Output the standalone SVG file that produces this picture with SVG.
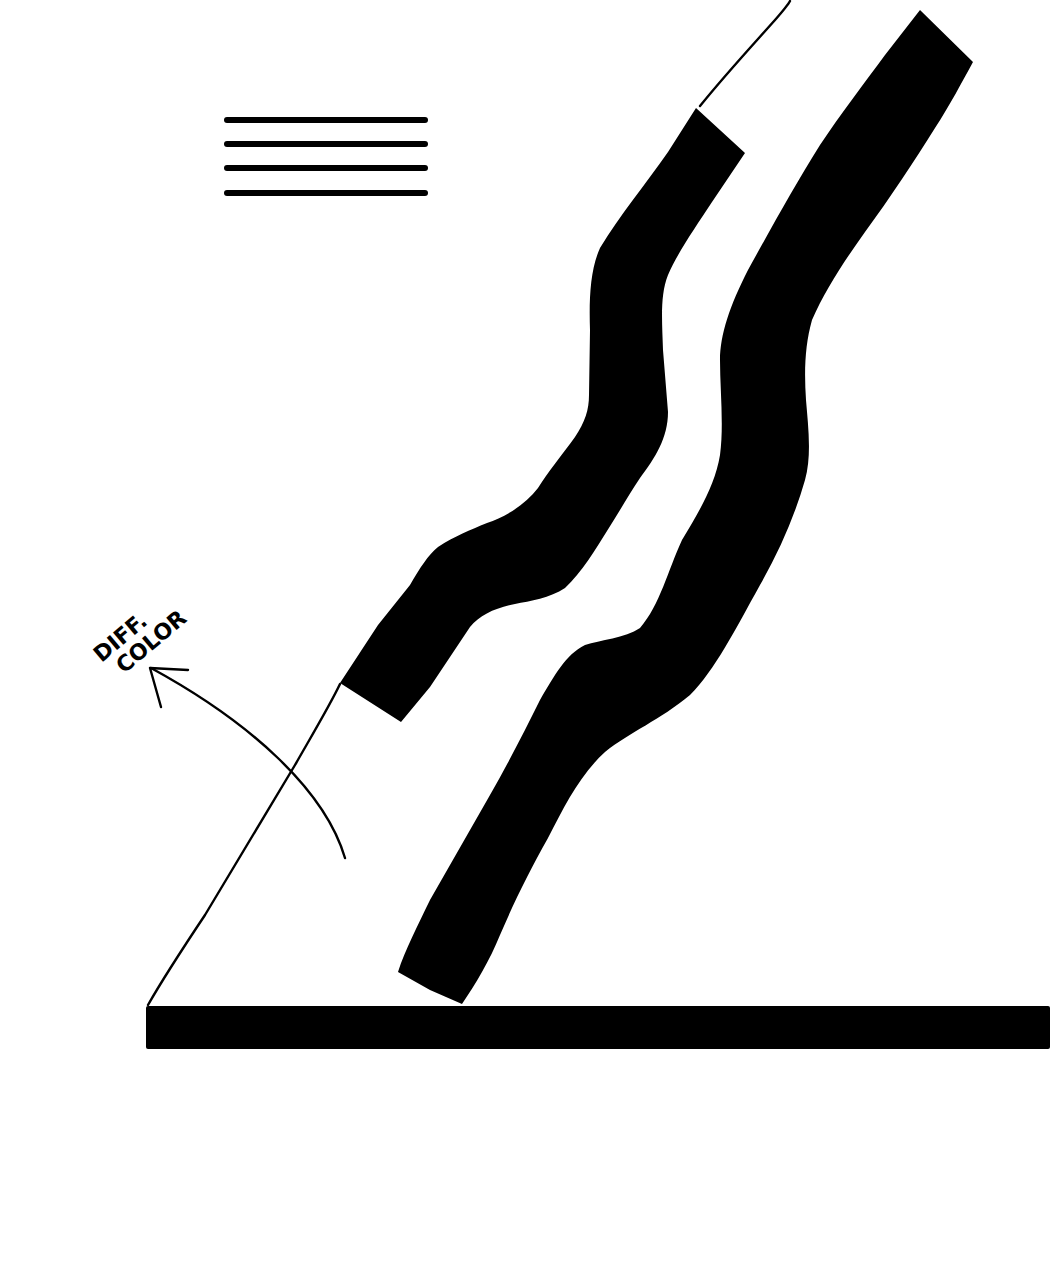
<svg xmlns="http://www.w3.org/2000/svg" width="1050" height="1275" viewBox="0 0 1050 1275">
<style>
.ink{fill:#000;stroke:none}
.thin{fill:none;stroke:#000;stroke-width:2.4;stroke-linecap:round;stroke-linejoin:round}
.bar{stroke:#000;stroke-width:6;stroke-linecap:round}
.lbl{font-family:"DejaVu Sans","Liberation Sans",sans-serif;font-weight:bold;font-size:22px;fill:#000;text-anchor:middle}
</style>
<rect width="1050" height="1275" fill="#fff"/>
<g id="legend-lines">
<line class="bar" x1="227" y1="120" x2="425" y2="120"/>
<line class="bar" x1="227" y1="144" x2="425" y2="144"/>
<line class="bar" x1="227" y1="168" x2="425" y2="168"/>
<line class="bar" x1="227" y1="193" x2="425" y2="193"/>
</g>
<g id="ground">
<rect class="ink" x="146" y="1006" width="904" height="43" rx="2"/>
</g>
<g id="thin-lines">
<path class="thin" d="M148,1005 C165,975 185,945 205,915 C235,865 265,815 295,765 C315,730 330,705 340,684"/>
<path class="thin" d="M700,106 C725,75 750,48 775,20 C782,12 788,5 790,1"/>
</g>
<g id="left-band">
<path class="ink" d="M340,683 L378,625 L410,585 C420,568 428,555 438,547 C455,536 470,530 487,523 C505,517 525,505 538,488 C548,472 562,455 575,437 C585,422 589,410 589,395 L590,330 C589,300 590,270 600,248 C620,215 645,185 668,152 L696,108 L745,153 L712,202 C695,228 678,252 668,275 C660,295 662,320 663,350 L668,412 C668,438 655,458 640,478 C628,496 618,514 607,531 C595,550 582,572 565,588 C550,598 530,601 515,604 C495,608 480,615 470,627 L430,687 L401,722 Z"/>
</g>
<g id="right-band">
<path class="ink" d="M920,10 L885,55 C865,82 840,115 820,145 C795,185 770,230 748,270 C730,305 720,335 720,360 C720,390 724,425 720,455 C715,485 700,510 682,540 C668,570 660,605 640,628 C625,638 600,640 585,645 C565,655 555,675 540,700 C525,730 510,760 490,795 C470,830 450,865 430,900 C418,925 405,950 398,972 L430,990 L462,1004 C475,985 490,960 500,935 C515,900 530,870 548,838 C565,805 580,775 605,752 C630,732 660,720 690,695 C715,670 735,630 760,585 C780,550 795,515 805,480 C812,455 808,425 806,400 C804,370 805,345 812,320 C825,290 845,260 865,232 C890,198 915,160 935,128 C950,105 962,82 973,62 Z"/>
</g>
<g id="note">
<path class="thin" d="M345,858 C325,790 250,722 151,668"/>
<path class="thin" d="M161,707 L150,668 L188,670"/>
<g transform="translate(120,637) rotate(-40)">
<text class="lbl" x="0" y="8">DIFF.</text>
<text class="lbl" x="21" y="31">COLOR</text>
</g>
</g>
</svg>
